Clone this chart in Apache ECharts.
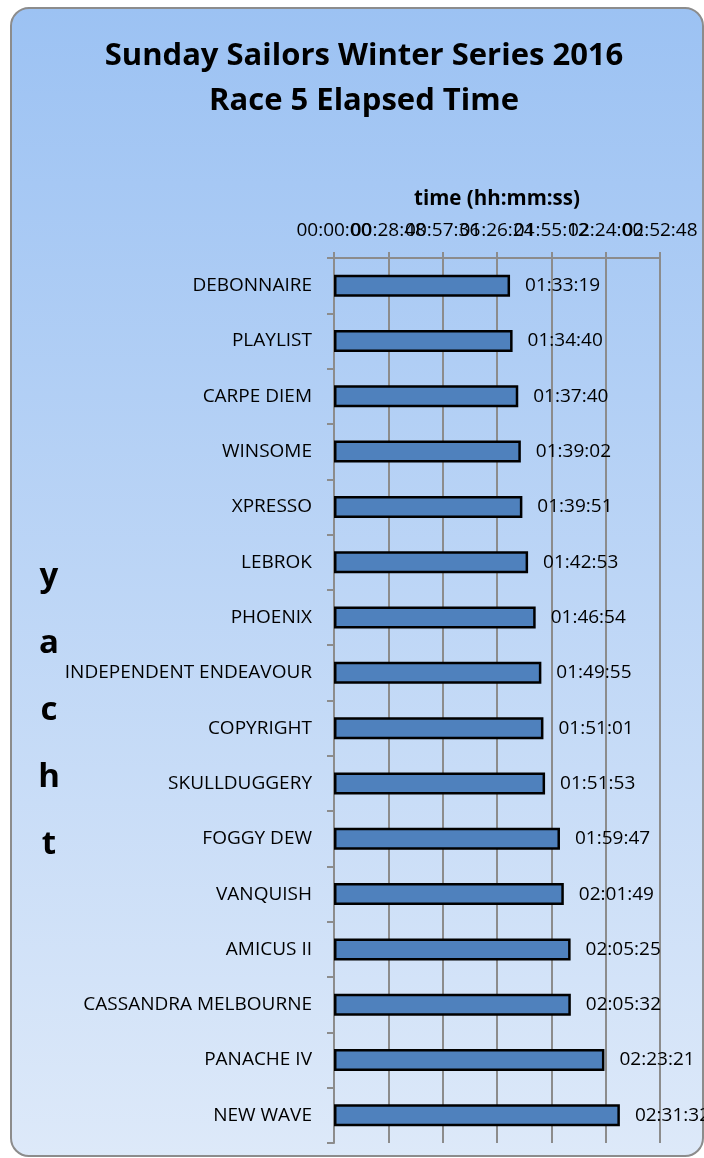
<!DOCTYPE html>
<html>
<head>
<meta charset="utf-8">
<script src="https://cdn.jsdelivr.net/npm/echarts@6/dist/echarts.min.js"></script>
<style>
html,body{margin:0;padding:0;background:#fff;}
#c{width:704px;height:1158px;}
</style>
</head>
<body>
<div id="c"></div>
<script>
var yachts = ["DEBONNAIRE","PLAYLIST","CARPE DIEM","WINSOME","XPRESSO","LEBROK","PHOENIX","INDEPENDENT ENDEAVOUR","COPYRIGHT","SKULLDUGGERY","FOGGY DEW","VANQUISH","AMICUS II","CASSANDRA MELBOURNE","PANACHE IV","NEW WAVE"];
var elapsed = ["01:33:19","01:34:40","01:37:40","01:39:02","01:39:51","01:42:53","01:46:54","01:49:55","01:51:01","01:51:53","01:59:47","02:01:49","02:05:25","02:05:32","02:23:21","02:31:32"];
var axisMin = "00:00:00", axisMax = "02:52:48", axisStep = "00:28:48";

function toSec(s){var p=s.split(':').map(Number);return p[0]*3600+p[1]*60+p[2];}
function pad(n){return (n<10?'0':'')+n;}
function toHms(v){v=Math.round(v);return pad(Math.floor(v/3600))+':'+pad(Math.floor(v%3600/60))+':'+pad(v%60);}
var values = elapsed.map(toSec);
var MIN = toSec(axisMin), MAX = toSec(axisMax), STEP = toSec(axisStep);

var FONT = 'Open Sans';
var FS = 19;
// two overlaid top axes share the scale; one labels even ticks, the other odd ticks,
// so every (overlapping) tick label stays visible as in the reference
function tickLabel(parity){
  return function(v){ var i = Math.round((v-MIN)/STEP); return (i%2===parity) ? toHms(v) : ''; };
}
function makeX(parity, main){
  return {
    type:'value', position:'top', gridIndex:0,
    min:MIN, max:MAX, interval:STEP,
    name: main ? 'time (hh:mm:ss)' : '', nameLocation:'middle', nameGap:48,
    nameTextStyle:{fontFamily:FONT, fontWeight:'bold', fontSize:20.5, color:'#000'},
    axisLine:{show:main, lineStyle:{color:'#8c8c8c', width:2}},
    axisTick:{show:main, inside:false, length:6, lineStyle:{color:'#8c8c8c', width:2}},
    axisLabel:{formatter:tickLabel(parity), hideOverlap:false, showMinLabel:true, showMaxLabel:true,
      fontFamily:FONT, fontSize:FS, color:'#000', margin:18},
    splitLine:{show:main, lineStyle:{color:'#8c8c8c', width:2}}
  };
}

var chart = echarts.init(document.getElementById('c'));
chart.setOption({
  animation:false,
  graphic:[{
    type:'rect', z:-10, silent:true,
    shape:{x:11,y:8,width:692,height:1148,r:18},
    style:{
      fill:new echarts.graphic.LinearGradient(0,0,0,1,[{offset:0,color:'#9cc2f3'},{offset:1,color:'#dde9f9'}]),
      stroke:'#8c8c8c', lineWidth:2
    }
  },{
    type:'text', x:49, y:543, silent:true,
    style:{text:'y\na\nc\nh\nt', font:'bold 33px "'+FONT+'"', fill:'#000', lineHeight:67, align:'center', verticalAlign:'top'}
  }],
  title:{
    text:'Sunday Sailors Winter Series 2016\nRace 5 Elapsed Time',
    left:359, top:29, textAlign:'center',
    textStyle:{fontFamily:FONT, fontWeight:'bold', fontSize:31, lineHeight:45, color:'#000'}
  },
  grid:{left:334, right:44, top:258, bottom:15},
  xAxis:[makeX(0,true), makeX(1,false)],
  yAxis:{
    type:'category', inverse:true, data:yachts,
    axisLine:{show:true, lineStyle:{color:'#8c8c8c', width:2}},
    axisTick:{show:true, length:7, lineStyle:{color:'#8c8c8c', width:2}},
    axisLabel:{fontFamily:FONT, fontSize:FS, color:'#000', margin:22}
  },
  series:[{
    type:'bar', data:values, barWidth:22, xAxisIndex:0,
    itemStyle:{color:'#4f81bd', borderColor:'#000', borderWidth:2.5},
    label:{show:true, position:'right', distance:15, formatter:function(p){return toHms(p.value);},
      fontFamily:FONT, fontSize:FS, color:'#000'}
  }]
});
</script>
</body>
</html>
